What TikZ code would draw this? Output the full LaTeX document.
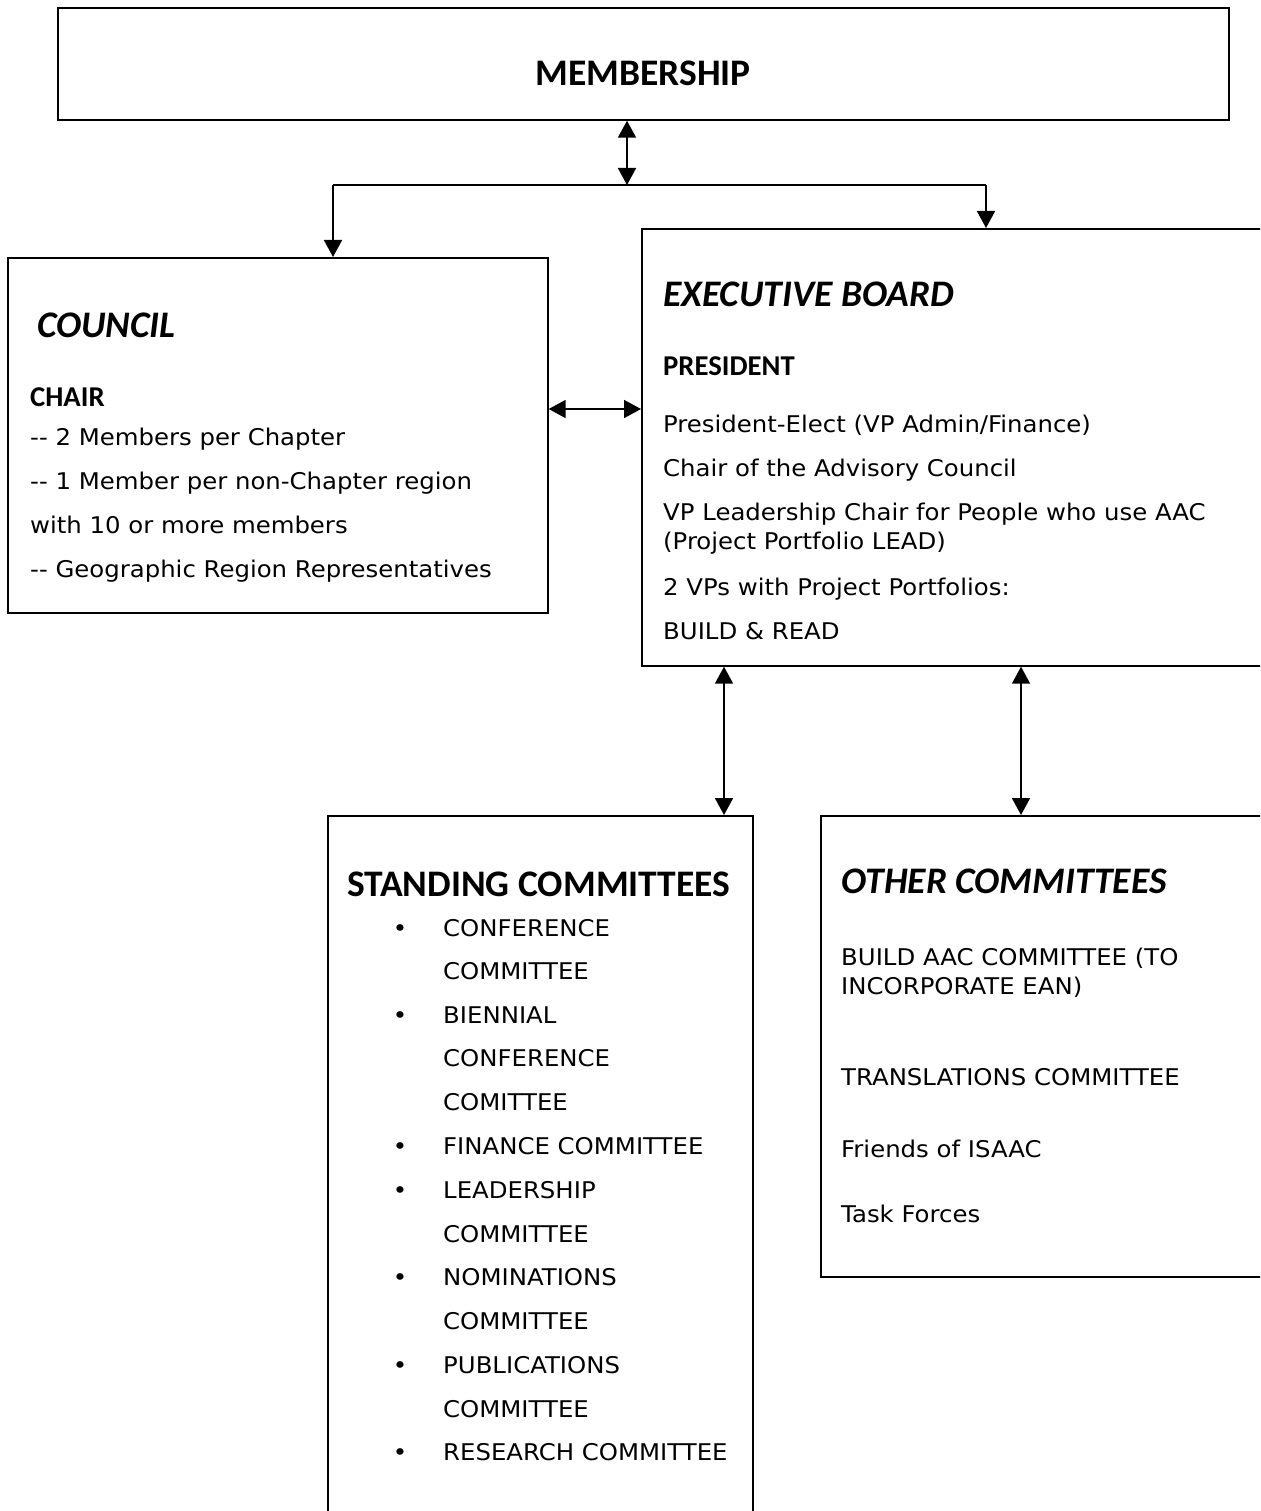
\documentclass[tikz,border=0pt]{standalone}
\usepackage{fontspec}
\setmainfont{DejaVu Sans}
\newfontfamily\headfont{Carlito}
\newfontfamily\bodyfont[FakeStretch=1.06]{DejaVu Sans}
\usetikzlibrary{arrows.meta}
\tikzset{
  box/.style={draw, line width=1.7pt, inner sep=0pt, anchor=north west},
  body/.style={font=\bodyfont\fontsize{23}{27}\selectfont, inner sep=0pt, anchor=base west},
  head/.style={font=\headfont\bfseries\fontsize{37.5}{40}\selectfont, inner sep=0pt, anchor=base west},
  ihead/.style={font=\headfont\bfseries\itshape\fontsize{37.5}{40}\selectfont, inner sep=0pt, anchor=base west},
  shead/.style={font=\headfont\bfseries\fontsize{28.7}{32}\selectfont, inner sep=0pt, anchor=base west},
  conn/.style={line width=1.8pt},
  arr/.style={conn, -{Triangle[length=17pt,width=18pt]}},
  arrb/.style={conn, {Triangle[length=17pt,width=18pt]}-{Triangle[length=17pt,width=18pt]}},
}
\begin{document}
\begin{tikzpicture}[x=1pt,y=1pt]
\useasboundingbox (0,0) rectangle (1260,-1511);
\clip (0,0) rectangle (1260,-1511);
\fill[white] (0,0) rectangle (1260,-1511);

% boxes
\node[box, minimum width=1171pt, minimum height=112pt] (mem) at (57,-7) {};
\node[box, minimum width=540pt, minimum height=355pt] (council) at (7,-257) {};
\node[box, minimum width=660pt, minimum height=437pt] (exec) at (641,-228) {};
\node[box, minimum width=425pt, minimum height=745pt] (stand) at (327,-815) {};
\node[box, minimum width=480pt, minimum height=461pt] (other) at (820,-815) {};

% membership
\node[head, anchor=base] (memt) at (643,-86) {MEMBERSHIP};

% council texts
\node[ihead] (ct) at (37,-337) {COUNCIL};
\node[shead] (cchair) at (30,-406) {CHAIR};
\node[body] (c1) at (30,-445) {-{}- 2 Members per Chapter};
\node[body] (c2) at (30,-489) {-{}- 1 Member per non-Chapter region};
\node[body] (c3) at (30,-533) {with 10 or more members};
\node[body] (c4) at (30,-577) {-{}- Geographic Region Representatives};

% exec texts
\node[ihead] (et) at (663,-306) {EXECUTIVE BOARD};
\node[shead] (epres) at (663,-375) {PRESIDENT};
\node[body] (e1) at (663,-432) {President-Elect (VP Admin/Finance)};
\node[body] (e2) at (663,-476) {Chair of the Advisory Council};
\node[body] (e3) at (663,-520) {VP Leadership Chair for People who use AAC};
\node[body] (e4) at (663,-549) {(Project Portfolio LEAD)};
\node[body] (e5) at (663,-595) {2 VPs with Project Portfolios:};
\node[body] (e6) at (663,-639) {BUILD \& READ};

% standing committees
\node[head] (st) at (347,-896) {STANDING COMMITTEES};
\foreach \y/\t/\b [count=\i] in {
  936/CONFERENCE/1, 979/COMMITTEE/0, 1023/BIENNIAL/1, 1066/CONFERENCE/0,
  1110/COMITTEE/0, 1154/FINANCE COMMITTEE/1, 1198/LEADERSHIP/1, 1242/COMMITTEE/0,
  1285/NOMINATIONS/1, 1329/COMMITTEE/0, 1373/PUBLICATIONS/1, 1417/COMMITTEE/0,
  1460/RESEARCH COMMITTEE/1} {
  \node[body] (s\i) at (443,-\y) {\t};
  \ifnum\b=1 \node[body, anchor=base] (sb\i) at (400,-\y) {•};\fi
}

% other committees
\node[ihead] (ot) at (841,-893) {OTHER COMMITTEES};
\node[body] (o1) at (841,-965) {BUILD AAC COMMITTEE (TO};
\node[body] (o2) at (841,-994) {INCORPORATE EAN)};
\node[body] (o3) at (841,-1085) {TRANSLATIONS COMMITTEE};
\node[body] (o4) at (841,-1157) {Friends of ISAAC};
\node[body] (o5) at (841,-1222) {Task Forces};

% connectors
\coordinate (jn) at (627,-185);
\coordinate (jl) at (333,-185);
\coordinate (jr) at (986,-185);
\draw[arrb] (mem.south -| jn) -- (jn);
\draw[conn] (jl) -- (jr);
\draw[arr] (jl) -- (jl |- council.north);
\draw[arr] (jr) -- (jr |- exec.north);
\coordinate (ce) at (0,-409);
\draw[arrb] (council.east |- ce) -- (exec.west |- ce);
\coordinate (xs) at (724,0);
\coordinate (xo) at (1021,0);
\draw[arrb] (exec.south -| xs) -- (stand.north -| xs);
\draw[arrb] (exec.south -| xo) -- (other.north -| xo);
\end{tikzpicture}
\end{document}
